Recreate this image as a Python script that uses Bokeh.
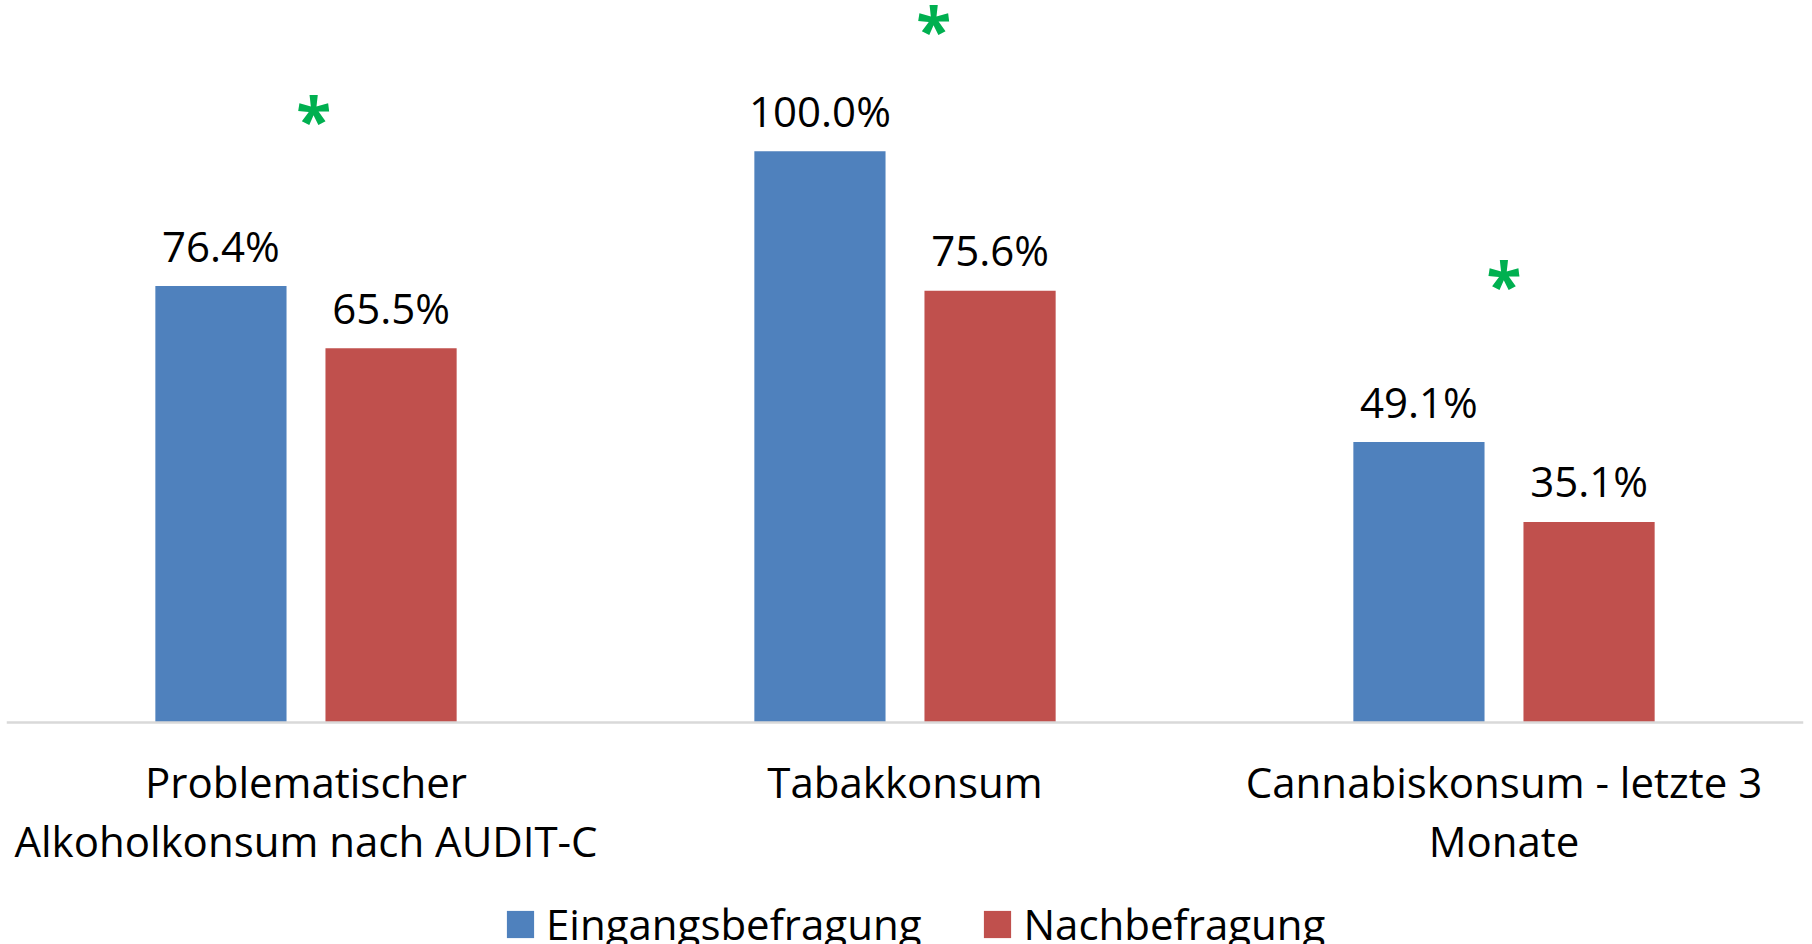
from bokeh.plotting import figure
from bokeh.models import ColumnDataSource, FactorRange, Range1d, Legend, LegendItem, Span
from bokeh.transform import dodge
from bokeh.core.properties import value
from bokeh.embed import file_html
from bokeh.resources import INLINE

# ---- data ----
categories = [
    "Problematischer\nAlkoholkonsum nach AUDIT-C",
    "Tabakkonsum",
    "Cannabiskonsum - letzte 3\nMonate",
]
series_names = ["Eingangsbefragung", "Nachbefragung"]
eingang = [76.4, 100.0, 49.1]
nach = [65.5, 75.6, 35.1]
# significance markers (annotation positions, in % units and category offsets)
sig_text = ["*", "*", "*"]
sig_y = [106.7, 122.4, 77.8]
sig_dx = [0.013, 0.048, 0.0]

FONT = "Open Sans"
FS = "42px"
BLUE = "#4F81BD"
RED = "#C0504D"
GREEN = "#00B050"

src = ColumnDataSource(dict(
    cat=categories,
    base=[0] * len(categories),
    eingang=eingang,
    nach=nach,
    lab_e=[f"{v:.1f}%" for v in eingang],
    lab_n=[f"{v:.1f}%" for v in nach],
))
sig_src = ColumnDataSource(dict(
    x=[(c, d) for c, d in zip(categories, sig_dx)],
    y=sig_y,
    t=sig_text,
))

# frame covers the whole picture; the value axis runs from 0 (baseline) to 126.4 at the top
p = figure(
    x_range=FactorRange(factors=categories, range_padding=0),
    y_range=Range1d(-38.87, 126.4),
    frame_width=1797, frame_height=944,
    output_backend="svg", toolbar_location=None,
    x_axis_location=None, y_axis_location=None,
    min_border=0, min_border_left=6, min_border_right=9, min_border_top=0, min_border_bottom=0,
)
p.outline_line_color = None
p.xgrid.grid_line_color = None
p.ygrid.grid_line_color = None

OFF = 0.142
W = 0.219
r1 = p.vbar(x=dodge("cat", -OFF, range=p.x_range), top="eingang", bottom=0, width=W, source=src,
            fill_color=BLUE, line_color=None)
r2 = p.vbar(x=dodge("cat", OFF, range=p.x_range), top="nach", bottom=0, width=W, source=src,
            fill_color=RED, line_color=None)

# category baseline (axis line)
p.add_layout(Span(location=0, dimension="width", line_color="#D9D9D9", line_width=2.5))

p.text(x=dodge("cat", -OFF, range=p.x_range), y="eingang", text="lab_e", source=src,
       text_font=value(FONT), text_font_size=FS, text_color="black",
       text_align="center", text_baseline="alphabetic", y_offset=-41)
p.text(x=dodge("cat", OFF, range=p.x_range), y="nach", text="lab_n", source=src,
       text_font=value(FONT), text_font_size=FS, text_color="black",
       text_align="center", text_baseline="alphabetic", y_offset=-41)

# category labels under the baseline
p.text(x="cat", y="base", text="cat", source=src,
       text_font=value(FONT), text_font_size=FS, text_color="black",
       text_align="center", text_baseline="top", text_line_height=1.03, y_offset=31)

p.text(x="x", y="y", text="t", source=sig_src,
       text_font=value(FONT), text_font_style="bold", text_font_size="64px",
       text_color=GREEN, text_align="center", text_baseline="middle", y_offset=6)

legend = Legend(
    items=[LegendItem(label=series_names[0], renderers=[r1]),
           LegendItem(label=series_names[1], renderers=[r2])],
    orientation="horizontal", location=(497, -8),
    label_text_font=FONT, label_text_font_size=FS, label_text_color="black",
    glyph_width=34, glyph_height=34, label_standoff=9, spacing=59,
    border_line_color=None, background_fill_alpha=0,
    padding=0, margin=0,
)
p.add_layout(legend)

open("out.html", "w").write(file_html(p, INLINE))
